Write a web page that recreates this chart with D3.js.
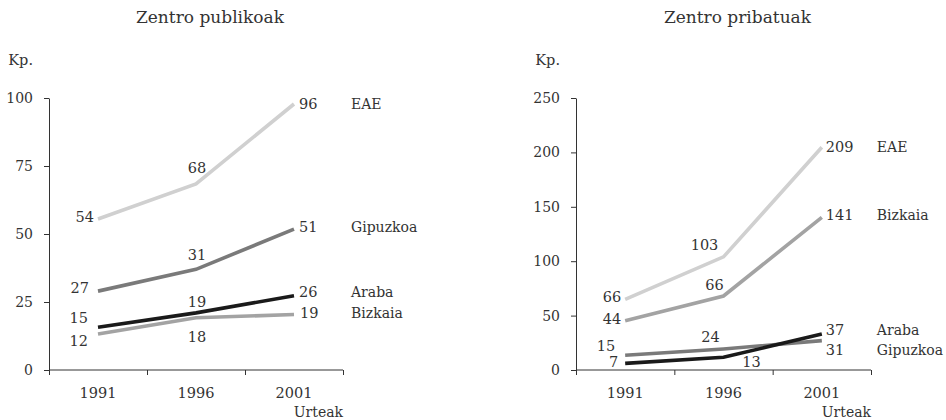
<!DOCTYPE html>
<html><head><meta charset="utf-8">
<script src="https://cdn.jsdelivr.net/npm/d3@7"></script>
<style>
html,body{margin:0;padding:0;background:#fff;}
svg text{font-family:"DejaVu Serif",serif;fill:#333;}
</style></head>
<body><svg id="c" width="946" height="420"></svg>
<script>
// ---- data ----
const years = ["1991", "1996", "2001"];
const seriesNames = ["EAE", "Gipuzkoa", "Araba", "Bizkaia"];
const colors = {EAE: "#d0d0d0", Gipuzkoa: "#7a7a7a", Araba: "#1a1a1a", Bizkaia: "#a3a3a3"};

// Zentro publikoak (plotted values)
const pubEAE = [55.5, 68.4, 97.8];
const pubGipuzkoa = [29, 37, 51.8];
const pubAraba = [15.7, 21, 27.3];
const pubBizkaia = [13.2, 19.2, 20.4];
// printed labels
const pubEAELabels = ["54", "68", "96"];
const pubGipuzkoaLabels = ["27", "31", "51"];
const pubArabaLabels = ["15", "19", "26"];
const pubBizkaiaLabels = ["12", "18", "19"];
const pubTicks = [0, 25, 50, 75, 100];

// Zentro pribatuak
const privEAE = [65, 104, 204.7];
const privBizkaia = [45.3, 68, 140.3];
const privGipuzkoa = [13.5, 19.3, 27];
const privAraba = [6.1, 11.7, 33];
const privEAELabels = ["66", "103", "209"];
const privBizkaiaLabels = ["44", "66", "141"];
const privGipuzkoaLabels = ["15", "24", "31"];
const privArabaLabels = ["7", "13", "37"];
const privTicks = [0, 50, 100, 150, 200, 250];

// ---- layout (label offsets relative to points: [dx, dy, anchor]) ----
const pubLayout = {
  EAE:      [[-4,-2,"end"],[1,-16,"middle"],[5,0,"start"]],
  Gipuzkoa: [[-9,-3,"end"],[1,-14,"middle"],[5,-2,"start"]],
  Araba:    [[-10,-9,"end"],[1,-11,"middle"],[5,-4,"start"]],
  Bizkaia:  [[-10,7,"end"],[1,19,"middle"],[6,-2,"start"]]
};
const privLayout = {
  EAE:      [[-4,-2,"end"],[-19,-12,"middle"],[4,0,"start"]],
  Bizkaia:  [[-4,-2,"end"],[-9,-11,"middle"],[4,-2,"start"]],
  Gipuzkoa: [[-10,-9,"end"],[-13,-12,"middle"],[4,9,"start"]],
  Araba:    [[-7,-1,"end"],[28,5,"middle"],[4,-4,"start"]]
};

const svg = d3.select("#c");

function panel(opt) {
  const g = svg.append("g");
  const x = d3.scalePoint().domain(years).range([opt.x0, opt.x1]).padding(0.5);
  const y = d3.scaleLinear().domain([0, opt.max]).range([370, 98]);

  g.append("text").attr("x", (opt.x0 + opt.x1) / 2 + opt.titleDx).attr("y", 17)
    .attr("text-anchor", "middle").attr("dominant-baseline", "central")
    .style("font-size", "17px").text(opt.title);
  g.append("text").attr("x", opt.x0 - 16).attr("y", 60)
    .attr("text-anchor", "end").attr("dominant-baseline", "central")
    .style("font-size", "14.5px").text("Kp.");

  // y axis
  const ya = g.append("g").attr("transform", `translate(${opt.x0},0)`)
    .call(d3.axisLeft(y).tickValues(opt.ticks).tickSize(5).tickPadding(11).tickSizeOuter(0));
  ya.select(".domain").attr("stroke", "#333");
  ya.selectAll(".tick line").attr("stroke", "#333");
  ya.selectAll(".tick text").style("font-size", "14px").style("font-family", "DejaVu Serif").attr("fill", "#333");

  // x axis: band boundaries as ticks
  const xb = d3.scaleLinear().domain([0, years.length]).range([opt.x0, opt.x1]);
  const xa = g.append("g").attr("transform", "translate(0,370)")
    .call(d3.axisBottom(xb).tickValues(d3.range(years.length + 1)).tickSize(5).tickFormat(""));
  xa.select(".domain").attr("d", `M${opt.x0},0H${opt.x1}`).attr("stroke", "#333");
  xa.selectAll(".tick line").attr("stroke", "#333");
  g.selectAll(".yr").data(years).join("text").attr("class", "yr")
    .attr("x", d => x(d)).attr("y", 393).attr("text-anchor", "middle")
    .attr("dominant-baseline", "central").style("font-size", "14.5px").text(d => d);
  g.append("text").attr("x", opt.x1).attr("y", 412).attr("text-anchor", "end")
    .attr("dominant-baseline", "central").style("font-size", "14px").text("Urteak");

  const line = d3.line().x((d, i) => x(years[i])).y(d => y(d));
  opt.series.forEach(s => {
    g.append("path").datum(s.values).attr("d", line).attr("fill", "none")
      .attr("stroke", colors[s.name]).attr("stroke-width", 3.6)
      .attr("stroke-linejoin", "miter");
  });
  opt.series.forEach(s => {
    const lay = opt.layout[s.name];
    s.values.forEach((v, i) => {
      g.append("text").attr("x", x(years[i]) + lay[i][0]).attr("y", y(v) + lay[i][1])
        .attr("text-anchor", lay[i][2]).attr("dominant-baseline", "central")
        .style("font-size", "14.5px").text(s.labels[i]);
    });
    const last = s.values.length - 1;
    g.append("text").attr("x", x(years[last]) + opt.nameDx).attr("y", y(s.values[last]) + lay[last][1])
      .attr("dominant-baseline", "central").style("font-size", "14px").text(s.name);
  });
}

panel({
  title: "Zentro publikoak", titleDx: 14, x0: 49, x1: 343, max: 100, ticks: pubTicks, nameDx: 57,
  layout: pubLayout,
  series: [
    {name: "EAE", values: pubEAE, labels: pubEAELabels},
    {name: "Gipuzkoa", values: pubGipuzkoa, labels: pubGipuzkoaLabels},
    {name: "Bizkaia", values: pubBizkaia, labels: pubBizkaiaLabels},
    {name: "Araba", values: pubAraba, labels: pubArabaLabels}
  ]
});
panel({
  title: "Zentro pribatuak", titleDx: 14, x0: 576, x1: 871, max: 250, ticks: privTicks, nameDx: 55,
  layout: privLayout,
  series: [
    {name: "EAE", values: privEAE, labels: privEAELabels},
    {name: "Bizkaia", values: privBizkaia, labels: privBizkaiaLabels},
    {name: "Gipuzkoa", values: privGipuzkoa, labels: privGipuzkoaLabels},
    {name: "Araba", values: privAraba, labels: privArabaLabels}
  ]
});
</script></body></html>
